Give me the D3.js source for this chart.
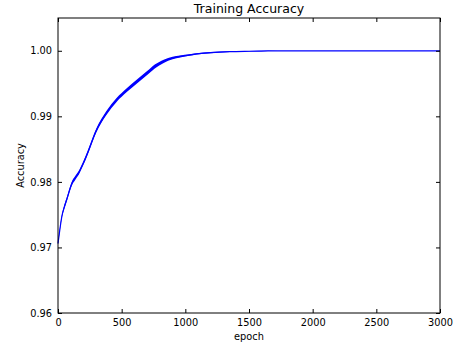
<!DOCTYPE html>
<html>
<head>
<meta charset="utf-8">
<script src="https://cdn.jsdelivr.net/npm/d3@7"></script>
<style>
  body { margin: 0; background: #fff; }
  text { font-family: "DejaVu Sans", sans-serif; fill: #000; }
</style>
</head>
<body>
<script>
// values
var epochs   = [0, 15, 30, 50, 70, 90, 110, 135, 160, 200, 240, 300, 380, 460, 540, 620, 700, 760, 830, 900, 960, 1030, 1090, 1200, 1350, 1500, 1650, 1800, 2000, 2500, 3000];
var accuracy = [0.9706, 0.9728, 0.9747, 0.9762, 0.9774, 0.9787, 0.9798, 0.9806, 0.9813, 0.9829, 0.9848, 0.9878, 0.9905, 0.9925, 0.9940, 0.9953, 0.9966, 0.9976, 0.9984, 0.9989, 0.99914, 0.99935, 0.99954, 0.99972, 0.99987, 0.99993, 0.99997, 0.99999, 1.0, 1.0, 1.0];
// half width of the noisy band around the curve
var spread   = [0.0001, 0.0002, 0.0002, 0.0003, 0.0003, 0.0003, 0.0003, 0.0003, 0.0003, 0.0003, 0.0003, 0.0003, 0.0003, 0.0003, 0.0003, 0.0003, 0.0003, 0.0003, 0.00025, 0.0002, 0.00015, 0.00012, 0.0001, 0.00008, 0.00005, 0.00003, 0.00002, 0.0, 0.0, 0.0, 0.0];
var xTicks = [0, 500, 1000, 1500, 2000, 2500, 3000];
var yTicks = [0.96, 0.97, 0.98, 0.99, 1.00];

var w = 458, h = 349;
var padL = 58, padR = 440, padT = 18, padB = 313;   // plot box edges

var data = epochs.map(function(e, i) { return {epoch: e, acc: accuracy[i], s: spread[i]}; });

var xScale = d3.scaleLinear().domain([0, 3000]).range([padL, padR]);
var yScale = d3.scaleLinear().domain([0.96, 1.005]).range([padB, padT]);

var svg = d3.select("body").append("svg")
    .attr("width", w)
    .attr("height", h);

// noise band
var band = d3.area()
    .x(function(d) { return xScale(d.epoch); })
    .y0(function(d) { return yScale(d.acc - d.s); })
    .y1(function(d) { return yScale(d.acc + d.s); })
    .curve(d3.curveMonotoneX);

svg.append("path")
    .datum(data)
    .attr("d", band)
    .attr("fill", "#0000ff");

var line = d3.line()
    .x(function(d) { return xScale(d.epoch); })
    .y(function(d) { return yScale(d.acc); })
    .curve(d3.curveMonotoneX);

svg.append("path")
    .datum(data)
    .attr("d", line)
    .attr("fill", "none")
    .attr("stroke", "#0000ff")
    .attr("stroke-width", 1.2);

// axes, ticks pointing inward on all four sides (matplotlib classic)
function styleAxis(g) {
    g.select(".domain").remove();
    g.selectAll(".tick line").attr("stroke", "#000");
    g.selectAll(".tick text").attr("font-size", "9.8px").attr("font-family", "DejaVu Sans");
}

svg.append("g")
    .attr("transform", "translate(0," + padB + ")")
    .call(d3.axisBottom(xScale).tickValues(xTicks).tickFormat(d3.format("d")).tickSizeInner(-4).tickPadding(6))
    .call(styleAxis);

svg.append("g")
    .attr("transform", "translate(0," + padT + ")")
    .call(d3.axisTop(xScale).tickValues(xTicks).tickSizeInner(-4).tickFormat(""))
    .call(styleAxis);

svg.append("g")
    .attr("transform", "translate(" + padL + ",0)")
    .call(d3.axisLeft(yScale).tickValues(yTicks).tickFormat(d3.format(".2f")).tickSizeInner(-4).tickPadding(6))
    .call(styleAxis);

svg.append("g")
    .attr("transform", "translate(" + padR + ",0)")
    .call(d3.axisRight(yScale).tickValues(yTicks).tickSizeInner(-4).tickFormat(""))
    .call(styleAxis);

// frame
svg.append("rect")
    .attr("x", padL)
    .attr("y", padT)
    .attr("width", padR - padL)
    .attr("height", padB - padT)
    .attr("fill", "none")
    .attr("stroke", "#000")
    .attr("stroke-width", 1);

svg.append("text")
    .attr("x", (padL + padR) / 2)
    .attr("y", 13)
    .attr("text-anchor", "middle")
    .attr("font-size", "12.5px")
    .text("Training Accuracy");

svg.append("text")
    .attr("x", (padL + padR) / 2)
    .attr("y", 340)
    .attr("text-anchor", "middle")
    .attr("font-size", "9.8px")
    .text("epoch");

svg.append("text")
    .attr("transform", "translate(24," + ((padT + padB) / 2) + ") rotate(-90)")
    .attr("text-anchor", "middle")
    .attr("font-size", "9.8px")
    .text("Accuracy");
</script>
</body>
</html>
